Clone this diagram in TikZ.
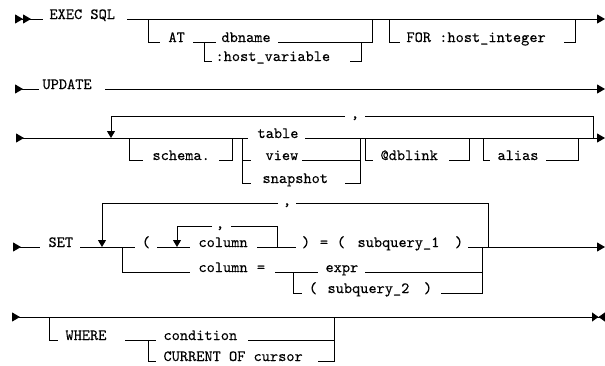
\documentclass[tikz,border=0pt]{standalone}
\usepackage{fontspec}
\setmonofont{lmmono10-regular.otf}[FakeBold=0.3]
\usetikzlibrary{arrows.meta}
\begin{document}
\begin{tikzpicture}[x=1pt,y=-1pt,line width=1pt,
    kw/.style={font=\fontsize{15.6}{16}\selectfont\ttfamily,inner sep=0pt,anchor=base west},
    sym/.style={font=\fontsize{15.6}{16}\selectfont\ttfamily,inner sep=0pt,anchor=base},
    railstart/.style={{Triangle[reversed,length=8pt,width=9pt]}-},
    railstartx/.style={{Triangle[reversed,length=8pt,width=9pt]Triangle[reversed,length=8pt,width=9pt]}-},
    railcont/.style={-{Triangle[length=8pt,width=9pt]}},
    railfinal/.style={{Triangle[reversed,length=8pt,width=9pt]}-{Triangle[length=6.5pt,width=9pt]Triangle[reversed,length=6.5pt,width=9pt]}},
    loopdown/.style={-{Triangle[length=7pt,width=8pt]}}]
  \useasboundingbox (0,0) rectangle (605,365);

  % EXEC SQL
  \coordinate (r1a) at (15,19);
  \coordinate (r1b) at (43,19);
  \coordinate (r1c) at (127,19);
  \coordinate (r1z) at (605,19);
  \draw[railstartx] (r1a)--(r1b);
  \node[kw] (exec) at (49,19) {EXEC SQL};
  \draw[railcont] (r1c)--(r1z);

  \coordinate (at1) at (148,19);
  \coordinate (at2) at (160,42);
  \draw (at1) |- (at2);
  \node[kw] (at) at (168,42) {AT};
  \coordinate (db1) at (193,42);
  \coordinate (db2) at (216,42);
  \coordinate (db3) at (278,42);
  \coordinate (db4) at (372,19);
  \draw (db1)--(db2);
  \node[kw] (dbname) at (221,42) {dbname};
  \draw (db3) -| (db4);
  \coordinate (hv1) at (204,42);
  \coordinate (hv2) at (212,61);
  \coordinate (hv3) at (350,61);
  \coordinate (hv4) at (361,42);
  \draw (hv1) |- (hv2);
  \node[kw] (hostvar) at (215,61) {:host\_variable};
  \draw (hv3) -| (hv4);

  \coordinate (for1) at (389,19);
  \coordinate (for2) at (400,42);
  \coordinate (for3) at (564,42);
  \coordinate (for4) at (575,19);
  \draw (for1) |- (for2);
  \node[kw] (for) at (406,42) {FOR :host\_integer};
  \draw (for3) -| (for4);

  % UPDATE
  \coordinate (r2a) at (15,89);
  \coordinate (r2b) at (39,89);
  \coordinate (r2c) at (105,89);
  \coordinate (r2z) at (605,89);
  \draw[railstart] (r2a)--(r2b);
  \node[kw] (update) at (42,89) {UPDATE};
  \draw[railcont] (r2c)--(r2z);

  % table list
  \coordinate (r3a) at (16,138);
  \coordinate (r3b) at (248,138);
  \coordinate (r3c) at (305,138);
  \coordinate (r3z) at (605,138);
  \draw[railstart] (r3a)--(r3b);
  \draw[railcont] (r3c)--(r3z);
  \coordinate (lp1) at (593,138);
  \coordinate (lp2) at (365,116);
  \coordinate (lp3) at (345,116);
  \coordinate (lp4) at (111,138);
  \draw (lp1) |- (lp2);
  \node[sym] (comma1) at (355,118) {,};
  \draw[loopdown] (lp3) -| (lp4);

  \coordinate (sc1) at (129,138);
  \coordinate (sc2) at (143,160);
  \coordinate (sc3) at (219,160);
  \coordinate (sc4) at (232,138);
  \draw (sc1) |- (sc2);
  \node[kw] (schema) at (152,160) {schema.};
  \draw (sc3) -| (sc4);

  \coordinate (tv1) at (242,138);
  \coordinate (tv2) at (251,183);
  \coordinate (tv3) at (242,160);
  \coordinate (tv4) at (251,160);
  \draw (tv1) |- (tv2);
  \draw (tv3)--(tv4);
  \node[kw] (table) at (257,138) {table};
  \node[kw] (view) at (265,160) {view};
  \node[kw] (snapshot) at (262,183) {snapshot};
  \coordinate (vw1) at (302,160);
  \coordinate (vw2) at (360,160);
  \coordinate (sn1) at (345,183);
  \coordinate (sn2) at (360,138);
  \draw (vw1)--(vw2);
  \draw (sn1) -| (sn2);

  \coordinate (dl1) at (365,138);
  \coordinate (dl2) at (373,160);
  \coordinate (dl3) at (449,160);
  \coordinate (dl4) at (469,138);
  \draw (dl1) |- (dl2);
  \node[kw] (dblink) at (380,160) {@dblink};
  \draw (dl3) -| (dl4);

  \coordinate (al1) at (483,138);
  \coordinate (al2) at (490,160);
  \coordinate (al3) at (546,160);
  \coordinate (al4) at (578,138);
  \draw (al1) |- (al2);
  \node[kw] (alias) at (497,160) {alias};
  \draw (al3) -| (al4);

  % SET
  \coordinate (r4a) at (13,247);
  \coordinate (r4b) at (40,247);
  \coordinate (r4c) at (80,247);
  \coordinate (r4d) at (135,247);
  \coordinate (r4e) at (468,247);
  \coordinate (r4z) at (605,247);
  \draw[railstart] (r4a)--(r4b);
  \node[kw] (set) at (48,247) {SET};
  \draw (r4c)--(r4d);
  \draw[railcont] (r4e)--(r4z);

  \coordinate (ol1) at (488,247);
  \coordinate (ol2) at (296,203);
  \coordinate (ol3) at (278,203);
  \coordinate (ol4) at (102,247);
  \draw (ol1) |- (ol2);
  \node[sym] (comma2) at (287,205) {,};
  \draw[loopdown] (ol3) -| (ol4);

  \node[sym] (lpar1) at (146,247) {(};
  \coordinate (cl1) at (157,247);
  \coordinate (cl2) at (190,247);
  \coordinate (cl3) at (257,247);
  \coordinate (cl4) at (296,247);
  \draw (cl1)--(cl2);
  \node[kw] (column1) at (198,247) {column};
  \draw (cl3)--(cl4);

  \coordinate (il1) at (277,247);
  \coordinate (il2) at (231,226);
  \coordinate (il3) at (212,226);
  \coordinate (il4) at (177,247);
  \draw (il1) |- (il2);
  \node[sym] (comma3) at (220,228) {,};
  \draw[loopdown] (il3) -| (il4);

  \node[sym] (rpar1) at (306,247) {)};
  \node[sym] (eq1) at (324,247) {=};
  \node[sym] (lpar2) at (341,247) {(};
  \node[kw] (subq1) at (357,247) {subquery\_1};
  \node[sym] (rpar2) at (459,247) {)};

  \coordinate (ce1) at (122,247);
  \coordinate (ce2) at (190,272);
  \draw (ce1) |- (ce2);
  \node[kw] (column2) at (198,272) {column};
  \node[sym] (eq2) at (261,272) {=};
  \coordinate (ex1) at (275,272);
  \coordinate (ex2) at (318,272);
  \coordinate (ex3) at (365,272);
  \coordinate (ex4) at (482,272);
  \draw (ex1)--(ex2);
  \node[kw] (expr) at (325,272) {expr};
  \draw (ex3)--(ex4);

  \coordinate (sq1) at (293,272);
  \coordinate (sq2) at (302,293);
  \coordinate (sq3) at (441,293);
  \coordinate (sq4) at (482,247);
  \draw (sq1) |- (sq2);
  \node[sym] (lpar3) at (313,293) {(};
  \node[kw] (subq2) at (327,293) {subquery\_2};
  \node[sym] (rpar3) at (428,293) {)};
  \draw (sq3) -| (sq4);

  % WHERE
  \coordinate (r5a) at (12,317);
  \coordinate (r5z) at (605,317);
  \draw[railfinal] (r5a)--(r5z);
  \coordinate (wh1) at (49,317);
  \coordinate (wh2) at (58,340);
  \coordinate (wh3) at (125,340);
  \coordinate (wh4) at (156,340);
  \draw (wh1) |- (wh2);
  \node[kw] (where) at (65,340) {WHERE};
  \draw (wh3)--(wh4);
  \node[kw] (condition) at (163,340) {condition};
  \coordinate (cd1) at (248,340);
  \coordinate (cd2) at (334,317);
  \draw (cd1) -| (cd2);
  \coordinate (cu1) at (148,340);
  \coordinate (cu2) at (156,361);
  \coordinate (cu3) at (318,361);
  \coordinate (cu4) at (334,340);
  \draw (cu1) |- (cu2);
  \node[kw] (cursor) at (163,361) {CURRENT OF cursor};
  \draw (cu3) -| (cu4);
\end{tikzpicture}
\end{document}
